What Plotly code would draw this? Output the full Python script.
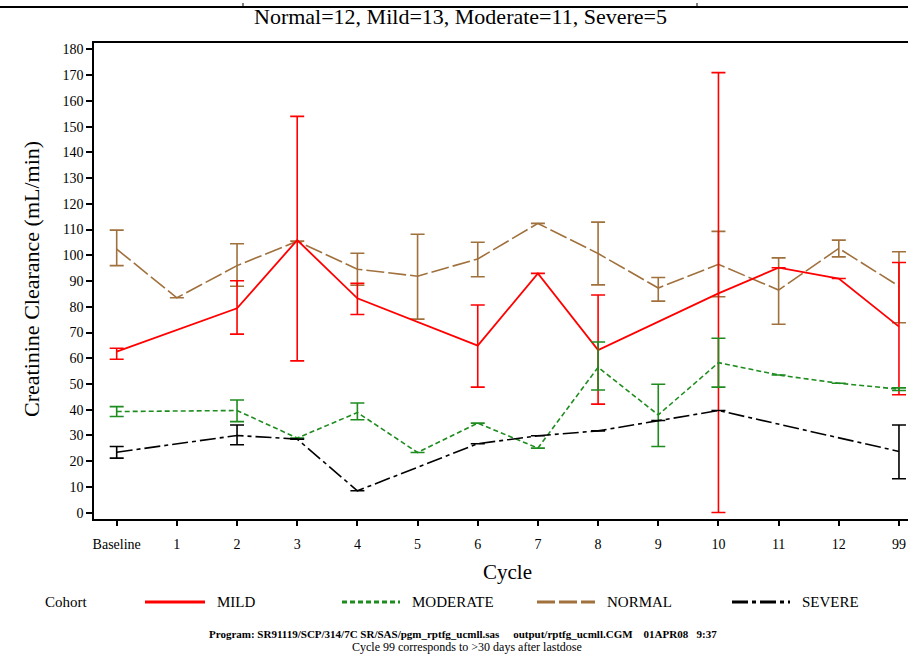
import plotly.graph_objects as go

# ---------------- data ----------------
cycles = ["Baseline", "1", "2", "3", "4", "5", "6", "7", "8", "9", "10", "11", "12", "99"]

normal_mean  = [102.4, 83.5, 96.0, 105.5, 94.6, 91.9, 98.6, 112.4, 100.7, 87.3, 96.5, 86.5, 102.7, 88.0]
normal_upper = [109.8, 83.5, 104.5, 105.5, 100.8, 108.2, 105.1, 112.4, 112.9, 91.4, 109.3, 99.0, 105.9, 101.4]
normal_lower = [96.0, 83.5, 88.0, 105.5, 88.4, 75.2, 91.7, 112.4, 88.5, 82.2, 83.9, 73.2, 99.4, 73.8]

mild_mean  = [62.6, None, 79.4, 105.9, 83.3, None, 64.9, 93.0, 63.2, None, 85.2, 95.2, 91.0, 72.3]
mild_upper = [63.9, None, 90.1, 154.0, 89.1, None, 80.7, 93.0, 84.6, None, 171.0, 95.2, 91.0, 97.2]
mild_lower = [59.6, None, 69.4, 59.0, 77.0, None, 48.8, 93.0, 42.2, None, 0.1, 95.2, 91.0, 45.8]

moderate_mean  = [39.3, None, 39.7, 29.0, 38.9, 23.4, 34.8, 25.1, 56.5, 38.0, 58.3, 53.5, 50.3, 48.0]
moderate_upper = [41.2, None, 43.8, 29.0, 42.6, 23.4, 34.8, 25.1, 66.3, 49.9, 67.8, 53.5, 50.3, 48.5]
moderate_lower = [37.4, None, 35.4, 29.0, 36.1, 23.4, 34.8, 25.1, 47.7, 25.7, 48.8, 53.5, 50.3, 47.5]

severe_mean  = [23.5, None, 30.0, 28.6, 8.5, None, 26.8, 29.9, 31.8, 35.8, 39.7, None, None, 23.8]
severe_upper = [25.7, None, 34.1, 28.6, 8.5, None, 26.8, 29.9, 31.8, 35.8, 39.7, None, None, 34.1]
severe_lower = [21.2, None, 26.4, 28.6, 8.5, None, 26.8, 29.9, 31.8, 35.8, 39.7, None, None, 13.2]

y_ticks = list(range(0, 181, 10))

title_text = "Normal=12, Mild=13, Moderate=11, Severe=5"
y_title = "Creatinine Clearance (mL/min)"
x_title = "Cycle"
legend_title = "Cohort"
footer1 = "Program: SR91119/SCP/314/7C SR/SAS/pgm_rptfg_ucmll.sas &nbsp;&nbsp;&nbsp; output/rptfg_ucmll.CGM &nbsp;&nbsp; 01APR08 &nbsp; 9:37"
footer2 = "Cycle 99 corresponds to >30 days after lastdose"

# ---------------- styling ----------------
FONT = "Liberation Serif"
W, H = 908, 656
L, R, T, B = 94, 0, 43, 137
PW, PH = W - L - R, H - T - B


def px2x(px):
    return (px - L) / PW


def py2y(py):
    return (H - B - py) / PH


series = [
    ("MILD", mild_mean, mild_upper, mild_lower, "#FF0000", "solid", 1.8),
    ("MODERATE", moderate_mean, moderate_upper, moderate_lower, "#1E8C1E", "5px,3px", 1.6),
    ("NORMAL", normal_mean, normal_upper, normal_lower, "#A0713D", "18px,4px", 1.6),
    ("SEVERE", severe_mean, severe_upper, severe_lower, "#000000", "16px,4px,4px,4px", 1.6),
]

fig = go.Figure()

order = [2, 0, 1, 3]
for i in order:
    name, mean, up, lo, col, dash, lw = series[i]
    plus = [(u - m) if (u is not None and m is not None) else None for u, m in zip(up, mean)]
    minus = [(m - l) if (l is not None and m is not None) else None for l, m in zip(lo, mean)]
    fig.add_trace(go.Scatter(
        x=cycles, y=mean, name=name, mode="lines",
        connectgaps=True,
        line=dict(color=col, width=lw, dash=dash),
        error_y=dict(type="data", symmetric=False, array=plus, arrayminus=minus,
                     color=col, thickness=1.6, width=7),
        showlegend=False,
    ))

legend_pos = [(145, 205, 215), (342, 400, 410), (537, 595, 605), (732, 790, 800)]
shapes = []
annotations = []
ly = py2y(602)
for (name, mean, up, lo, col, dash, lw), (x0, x1, xt) in zip(series, legend_pos):
    shapes.append(dict(type="line", xref="paper", yref="paper",
                       x0=px2x(x0), x1=px2x(x1), y0=ly, y1=ly,
                       line=dict(color=col, width=2.8, dash=dash)))
    annotations.append(dict(text=name, xref="paper", yref="paper", x=px2x(xt), y=ly,
                            xanchor="left", yanchor="middle", showarrow=False,
                            font=dict(family=FONT, size=15, color="black")))
annotations.append(dict(text=legend_title, xref="paper", yref="paper", x=px2x(43), y=ly,
                        xanchor="left", yanchor="middle", showarrow=False,
                        font=dict(family=FONT, size=15, color="black")))

shapes.append(dict(type="line", xref="paper", yref="paper", x0=px2x(0), x1=px2x(908),
                   y0=py2y(7), y1=py2y(7), line=dict(color="black", width=2)))
for tx in (243, 697):
    shapes.append(dict(type="line", xref="paper", yref="paper", x0=px2x(tx), x1=px2x(tx),
                       y0=py2y(3), y1=py2y(8), line=dict(color="black", width=1)))

annotations += [
    dict(text=title_text, xref="paper", yref="paper", x=px2x(460), y=py2y(17),
         xanchor="center", yanchor="middle", showarrow=False,
         font=dict(family=FONT, size=22, color="black")),
    dict(text=y_title, xref="paper", yref="paper", x=px2x(31), y=py2y(279),
         xanchor="center", yanchor="middle", showarrow=False, textangle=-90,
         font=dict(family=FONT, size=22, color="black")),
    dict(text=x_title, xref="paper", yref="paper", x=px2x(507), y=py2y(572),
         xanchor="center", yanchor="middle", showarrow=False,
         font=dict(family=FONT, size=21, color="black")),
    dict(text="<b>" + footer1 + "</b>", xref="paper", yref="paper", x=px2x(463), y=py2y(634),
         xanchor="center", yanchor="middle", showarrow=False,
         font=dict(family=FONT, size=11, color="black")),
    dict(text=footer2, xref="paper", yref="paper", x=px2x(467), y=py2y(647),
         xanchor="center", yanchor="middle", showarrow=False,
         font=dict(family=FONT, size=12, color="black")),
]

fig.update_layout(
    width=W, height=H,
    margin=dict(l=L, r=R, t=T, b=B, pad=0),
    paper_bgcolor="white", plot_bgcolor="white",
    showlegend=False,
    shapes=shapes, annotations=annotations,
    font=dict(family=FONT, size=14, color="black"),
)

fig.update_xaxes(
    type="category", categoryorder="array", categoryarray=cycles,
    range=[-0.377, 13.15],
    showgrid=False, zeroline=False,
    showline=True, linecolor="black", linewidth=1.6, mirror=True,
    ticks="outside", ticklen=5, tickwidth=1.5, tickcolor="black",
    ticklabelstandoff=6,
    tickfont=dict(family=FONT, size=14, color="black"),
)
fig.update_yaxes(
    range=[-2.45, 182.5],
    tickvals=y_ticks, ticktext=[str(v) for v in y_ticks],
    showgrid=False, zeroline=False,
    showline=True, linecolor="black", linewidth=1.6, mirror=False,
    ticks="outside", ticklen=6, tickwidth=1.5, tickcolor="black",
    tickfont=dict(family=FONT, size=14, color="black"),
)

fig.write_html(
    "out.html",
    config={"displayModeBar": False},
    post_script="document.body.style.margin='0';document.body.style.overflow='hidden';",
)
